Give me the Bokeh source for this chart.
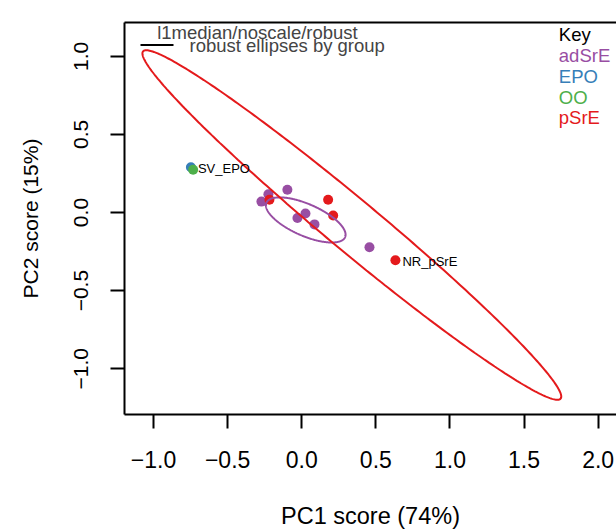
import numpy as np
from bokeh.plotting import figure
from bokeh.models import Range1d, FixedTicker, Label, LinearAxis
from bokeh.embed import file_html
from bokeh.resources import INLINE
from bokeh.core.properties import value

# ---------------- data ----------------
groups = ["adSrE", "EPO", "OO", "pSrE"]
group_colors = ["#984EA3", "#377EB8", "#4DAF4A", "#E41A1C"]

adSrE_pc1 = [-0.272, -0.225, -0.097, -0.029, 0.025, 0.086, 0.457]
adSrE_pc2 = [0.070, 0.117, 0.146, -0.035, -0.006, -0.076, -0.222]
EPO_pc1 = [-0.748]
EPO_pc2 = [0.290]
OO_pc1 = [-0.733]
OO_pc2 = [0.274]
pSrE_pc1 = [-0.218, 0.178, 0.212, 0.632]
pSrE_pc2 = [0.082, 0.082, -0.019, -0.306]

point_labels = ["SV_EPO", "NR_pSrE"]
label_pc1 = [-0.748, 0.632]
label_pc2 = [0.290, -0.306]

# robust ellipses: centre and shape matrix (covariance scaled by chi-square quantile)
adSrE_center = [0.027, -0.0475]
adSrE_shape = [[0.07221, -0.0253], [-0.0253, 0.02085]]
pSrE_center = [0.338, -0.080]
pSrE_shape = [[1.9966, -1.5516], [-1.5516, 1.2518]]

x_ticks = [-1.0, -0.5, 0.0, 0.5, 1.0, 1.5, 2.0]
x_tick_labels = ["\u22121.0", "\u22120.5", "0.0", "0.5", "1.0", "1.5", "2.0"]
y_ticks = [-1.0, -0.5, 0.0, 0.5, 1.0]
y_tick_labels = ["\u22121.0", "\u22120.5", "0.0", "0.5", "1.0"]

x_title = "PC1 score (74%)"
y_title = "PC2 score (15%)"
legend_title = "l1median/noscale/robust"
legend_line_text = "robust ellipses by group"
key_title = "Key"

# ---------------- layout ----------------
W, H = 616, 531
FL, FT, FW, FH = 124, 22, 492, 396   # frame left/top/width/height in px
X0 = -1.196
X1 = X0 + FW / 148.2
Y0 = -1.293
Y1 = Y0 + FH / 157.8

def px2x(px):
    return X0 + (px - FL) / FW * (X1 - X0)

def py2y(py):
    return Y1 - (py - FT) / FH * (Y1 - Y0)

FONT = "Liberation Sans"

p = figure(width=W, height=H, x_range=Range1d(X0, X1), y_range=Range1d(Y0, Y1),
           output_backend="svg", toolbar_location=None,
           min_border_left=FL, min_border_right=0, min_border_top=FT,
           min_border_bottom=H - FT - FH)
p.grid.visible = False
p.outline_line_color = None
p.background_fill_color = "white"
p.border_fill_color = "white"

for ax in (p.xaxis[0], p.yaxis[0]):
    ax.axis_line_width = 2
    ax.major_tick_line_width = 2
    ax.major_tick_out = 14
    ax.major_tick_in = 0
    ax.minor_tick_out = 0
    ax.minor_tick_in = 0
    ax.major_label_text_font = FONT
    ax.axis_label_text_font = FONT
    ax.axis_label_text_font_style = "normal"
    ax.major_label_text_color = "black"
    ax.axis_label_text_color = "black"

p.xaxis.ticker = FixedTicker(ticks=x_ticks)
p.yaxis.ticker = FixedTicker(ticks=y_ticks)
p.xaxis.major_label_overrides = {t: s for t, s in zip(x_ticks, x_tick_labels)}
p.yaxis.major_label_overrides = {t: s for t, s in zip(y_ticks, y_tick_labels)}
p.xaxis.major_label_text_font_size = "23px"
p.yaxis.major_label_text_font_size = "21px"
p.xaxis.major_label_standoff = 22
p.yaxis.major_label_standoff = 22
p.yaxis.major_label_orientation = "vertical"
p.xaxis.axis_label = x_title
p.yaxis.axis_label = y_title
p.xaxis.axis_label_text_font_size = "23.5px"
p.yaxis.axis_label_text_font_size = "21px"
p.xaxis.axis_label_standoff = 32
p.yaxis.axis_label_standoff = 30

top_axis = LinearAxis(ticker=FixedTicker(ticks=[]), axis_line_width=2,
                      major_tick_out=0, major_tick_in=0, minor_tick_out=0, minor_tick_in=0)
p.add_layout(top_axis, "above")

# points
series = [(adSrE_pc1, adSrE_pc2, group_colors[0]),
          (EPO_pc1, EPO_pc2, group_colors[1]),
          (OO_pc1, OO_pc2, group_colors[2]),
          (pSrE_pc1, pSrE_pc2, group_colors[3])]
for xs, ys, c in series:
    p.scatter(xs, ys, size=10, marker="circle", fill_color=c, line_color=None)

# ellipses
t = np.linspace(0, 2 * np.pi, 361)
circle = np.vstack([np.cos(t), np.sin(t)])
for cen, shape, c in [(adSrE_center, adSrE_shape, group_colors[0]),
                      (pSrE_center, pSrE_shape, group_colors[3])]:
    L = np.linalg.cholesky(np.array(shape))
    pts = L @ circle
    p.line(pts[0] + cen[0], pts[1] + cen[1], line_color=c, line_width=2)

# point labels
p.text(label_pc1, label_pc2, text=point_labels, x_offset=7, y_offset=1,
       text_font=value(FONT), text_font_size="13px", text_baseline="middle",
       text_align="left", text_color="black")

# legend (top-left)
p.line([px2x(140), px2x(173)], [py2y(44.7), py2y(44.7)], line_color="black", line_width=2)
p.add_layout(Label(x=px2x(156.7), y=py2y(32), text=legend_title, text_font=FONT,
                   text_font_size="18.5px", text_baseline="middle", text_align="left"))
p.add_layout(Label(x=px2x(189), y=py2y(45), text=legend_line_text, text_font=FONT,
                   text_font_size="18.5px", text_baseline="middle", text_align="left"))

# key (top-right)
key_items = [key_title] + groups
key_colors = ["black"] + group_colors
for i, (txt, c) in enumerate(zip(key_items, key_colors)):
    p.add_layout(Label(x=px2x(558.3), y=py2y(34.3 + 21 * i), text=txt, text_font=FONT,
                       text_font_size="18.5px", text_color=c,
                       text_baseline="middle", text_align="left"))

open("out.html", "w").write(file_html(p, INLINE))
